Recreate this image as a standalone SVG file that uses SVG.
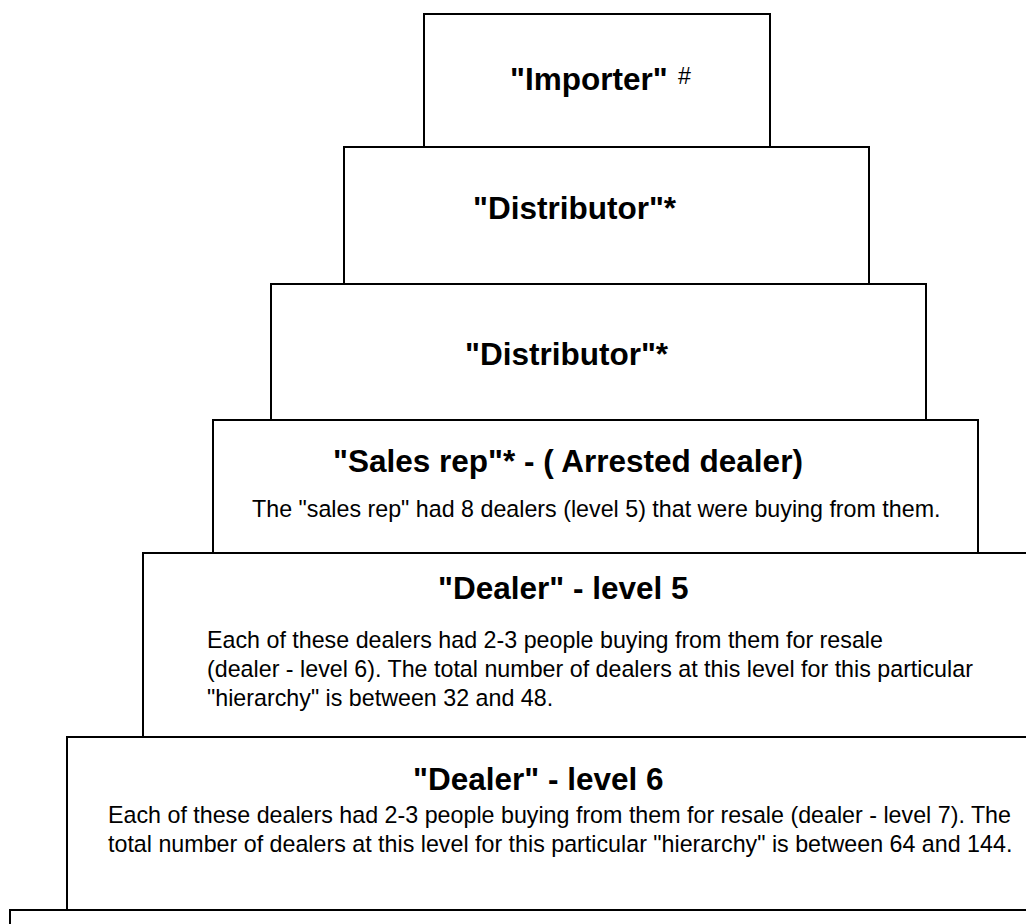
<svg xmlns="http://www.w3.org/2000/svg" width="1026" height="924" viewBox="0 0 1026 924">
<style>
.box{fill:#fff;stroke:#000;stroke-width:2}
.h{font-family:"Liberation Sans",Arial,sans-serif;font-weight:bold;font-size:31.5px;fill:#000}
.b{font-family:"Liberation Sans",Arial,sans-serif;font-size:23.25px;fill:#000}
</style>
<rect width="1026" height="924" fill="#fff"/>
<g id="connectors"/>
<g id="importer">
<rect class="box" x="424" y="14" width="346" height="133"/>
<text class="h" x="510" y="90">"Importer"</text>
<text class="b" x="678" y="83.5">#</text>
</g>
<g id="distributor1">
<rect class="box" x="344" y="147" width="525" height="137"/>
<text class="h" x="473" y="219">"Distributor"*</text>
</g>
<g id="distributor2">
<rect class="box" x="271" y="284" width="655" height="136"/>
<text class="h" x="465" y="365">"Distributor"*</text>
</g>
<g id="salesrep">
<rect class="box" x="213" y="420" width="765" height="133"/>
<text class="h" x="333" y="472">"Sales rep"* - ( Arrested dealer)</text>
<text class="b" x="252" y="517">The "sales rep" had 8 dealers (level 5) that were buying from them.</text>
</g>
<g id="dealer5">
<rect class="box" x="143" y="553" width="920" height="184"/>
<text class="h" x="438" y="599">"Dealer" - level 5</text>
<text class="b" x="207" y="648">Each of these dealers had 2-3 people buying from them for resale</text>
<text class="b" x="207" y="677">(dealer - level 6). The total number of dealers at this level for this particular</text>
<text class="b" x="207" y="706">"hierarchy" is between 32 and 48.</text>
</g>
<g id="dealer6">
<rect class="box" x="67" y="737" width="1000" height="173"/>
<text class="h" x="413" y="790">"Dealer" - level 6</text>
<text class="b" x="108" y="823">Each of these dealers had 2-3 people buying from them for resale (dealer - level 7). The</text>
<text class="b" x="108" y="852">total number of dealers at this level for this particular "hierarchy" is between 64 and 144.</text>
</g>
<g id="dealer7">
<rect class="box" x="10" y="910" width="1100" height="100"/>
</g>
</svg>
